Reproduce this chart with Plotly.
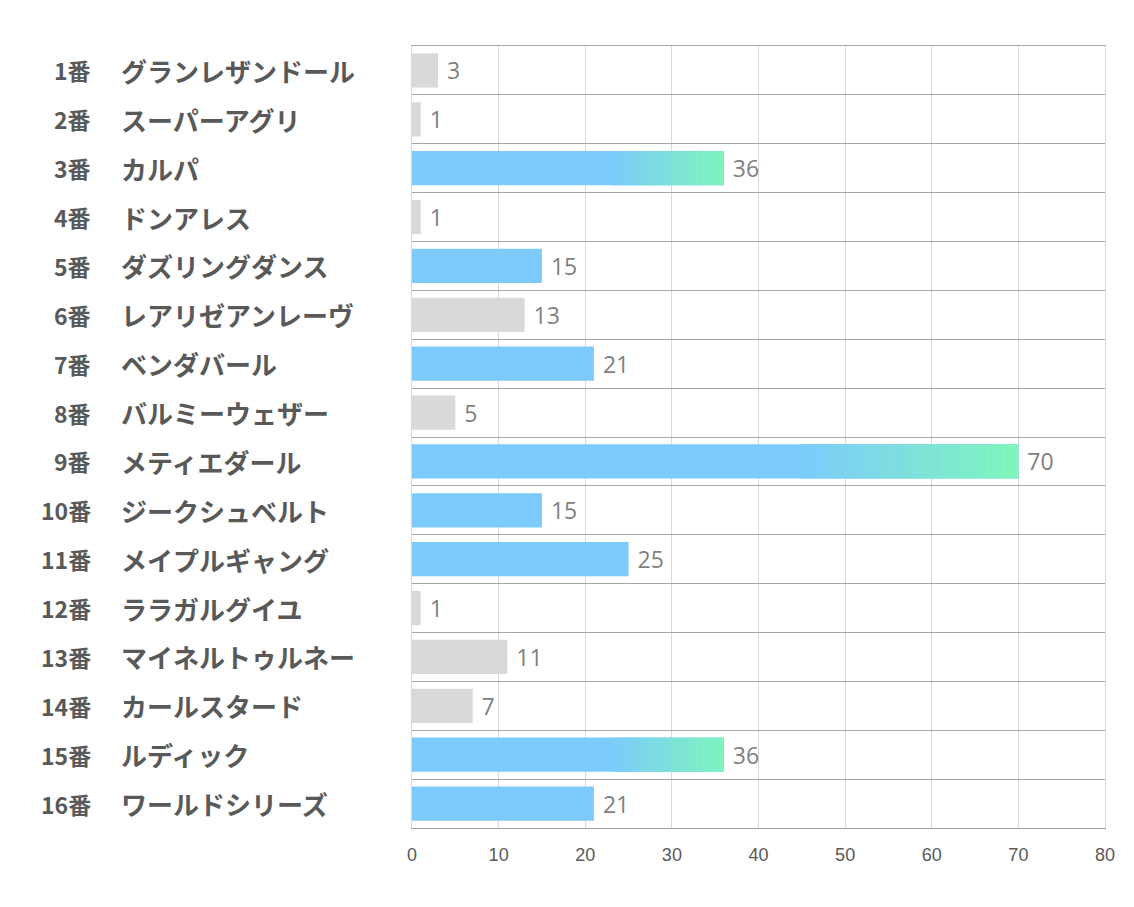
import plotly.graph_objects as go

numbers = ["1番", "2番", "3番", "4番", "5番", "6番", "7番", "8番",
           "9番", "10番", "11番", "12番", "13番", "14番", "15番", "16番"]
names = ["グランレザンドール", "スーパーアグリ", "カルパ", "ドンアレス", "ダズリングダンス",
         "レアリゼアンレーヴ", "ベンダバール", "バルミーウェザー", "メティエダール",
         "ジークシュベルト", "メイプルギャング", "ララガルグイユ", "マイネルトゥルネー",
         "カールスタード", "ルディック", "ワールドシリーズ"]
values = [3, 1, 36, 1, 15, 13, 21, 5, 70, 15, 25, 1, 11, 7, 36, 21]
# bar style group: 0 = grey, 1 = blue, 2 = blue with green gradient
groups = [0, 0, 2, 0, 1, 0, 1, 0, 2, 1, 1, 0, 0, 0, 2, 1]
x_ticks = [0, 10, 20, 30, 40, 50, 60, 70, 80]

GREY = "#D9D9D9"
BLUE = (124, 203, 252)
GREEN = (127, 247, 185)
blue_hex = "rgb(%d,%d,%d)" % BLUE

pos = list(range(len(values)))
colors = [GREY if g == 0 else blue_hex for g in groups]

fig = go.Figure()
fig.add_trace(go.Bar(
    y=pos, x=values, orientation="h", width=0.7,
    marker=dict(color=colors, line=dict(width=0)),
    text=[" " + str(v) for v in values], textposition="outside",
    outsidetextfont=dict(family="Open Sans, Noto Sans, sans-serif", size=23, color="#7F7F7F"),
    cliponaxis=False, hoverinfo="skip", showlegend=False,
))

# gradient overlay for the highlighted bars
N = 40
f0 = 0.64
gy, gbase, gx, gcol = [], [], [], []
for p, v, g in zip(pos, values, groups):
    if g != 2:
        continue
    for i in range(N):
        a = f0 + (1 - f0) * i / N
        b = f0 + (1 - f0) * (i + 1) / N
        t = (i + 0.5) / N
        c = tuple(round(BLUE[k] + (GREEN[k] - BLUE[k]) * t) for k in range(3))
        gy.append(p)
        gbase.append(v * a)
        gx.append(v * (b - a) * 1.02 if i < N - 1 else v * (b - a))
        gcol.append("rgb(%d,%d,%d)" % c)
fig.add_trace(go.Bar(
    y=gy, x=gx, base=gbase, orientation="h", width=0.7,
    marker=dict(color=gcol, line=dict(width=0)),
    hoverinfo="skip", showlegend=False,
))

L, R, T, B = 412, 29, 46, 79
W = 1134 - L - R
for p, num, nm in zip(pos, numbers, names):
    fig.add_annotation(x=(93 - L) / W, y=p, xref="paper", yref="y", text=num,
                       showarrow=False, xanchor="right",
                       font=dict(family="Noto Sans CJK JP", size=23, color="#595959", weight="bold"))
    fig.add_annotation(x=(119 - L) / W, y=p, xref="paper", yref="y", text=nm,
                       showarrow=False, xanchor="left",
                       font=dict(family="Noto Sans CJK JP", size=26, color="#595959", weight="bold"))

fig.update_layout(
    width=1134, height=907,
    margin=dict(l=L, r=R, t=T, b=B),
    barmode="overlay",
    plot_bgcolor="white", paper_bgcolor="white",
    xaxis=dict(range=[0, 80], tickvals=x_ticks, showgrid=True, gridcolor="#D9D9D9",
               gridwidth=1, zeroline=False, showline=True, linecolor="#A6A6A6",
               mirror=True, ticks="", ticklen=0, ticklabelstandoff=10,
               tickfont=dict(family="Liberation Sans Narrow, Liberation Sans, sans-serif",
                             size=18, color="#595959")),
    yaxis=dict(range=[15.5, -0.5], tickvals=[i - 0.5 for i in range(17)],
               showticklabels=False, showgrid=True, gridcolor="#A6A6A6", gridwidth=1,
               zeroline=False, showline=True, linecolor="#D9D9D9", mirror=True, ticks=""),
)

fig.write_html("out.html")
